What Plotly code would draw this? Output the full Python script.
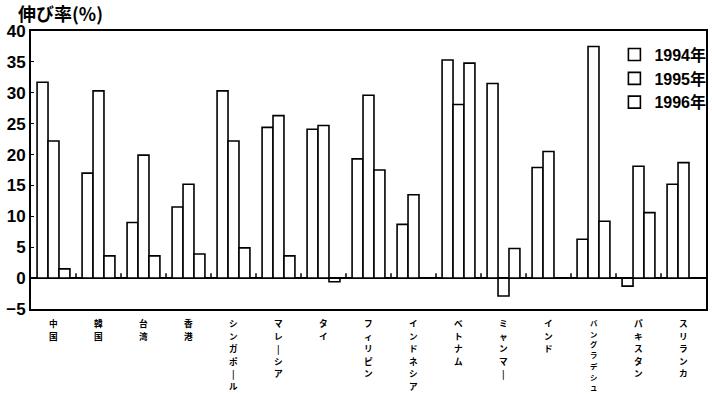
import plotly.graph_objects as go

categories = ["中国", "韓国", "台湾", "香港", "シンガポール", "マレーシア", "タイ",
              "フィリピン", "インドネシア", "ベトナム", "ミャンマー", "インド",
              "バングラデシュ", "パキスタン", "スリランカ"]
series_names = ["1994年", "1995年", "1996年"]
y1994 = [31.7, 17.0, 9.0, 11.5, 30.3, 24.4, 24.1, 19.3, 8.7, 35.3, 31.5, 17.9, 6.3, -1.3, 15.2]
y1995 = [22.2, 30.3, 19.9, 15.2, 22.2, 26.3, 24.7, 29.6, 13.5, 28.1, -2.9, 20.5, 37.5, 18.1, 18.7]
y1996 = [1.5, 3.6, 3.6, 3.9, 4.9, 3.6, -0.6, 17.5, None, 34.8, 4.8, None, 9.2, 10.6, None]
y_ticks = [-5, 0, 5, 10, 15, 20, 25, 30, 35, 40]

JP = "Noto Sans CJK JP"
NUM = "Liberation Sans, Arial, Noto Sans CJK JP"

fig = go.Figure()
for name, vals in zip(series_names, [y1994, y1995, y1996]):
    fig.add_trace(go.Bar(
        x=categories, y=vals, name=name,
        marker=dict(color="white", line=dict(color="black", width=1.6)),
    ))

# small separator ticks on the zero line between country groups
for i in range(len(categories) - 1):
    fig.add_shape(type="line", xref="x", yref="y",
                  x0=i + 0.5, x1=i + 0.5, y0=0, y1=0.8,
                  line=dict(color="black", width=1.5))

# vertical (tategaki) category labels: one character per line
for cat in categories:
    chars = ["|" if ch == "ー" else ch for ch in cat]
    pitch = min(12.6, 75.0 / len(chars))
    size = pitch / 1.45
    for k, ch in enumerate(chars):
        fig.add_annotation(
            x=cat, xref="x", y=0, yref="paper", yanchor="top", xanchor="center",
            yshift=-(6 + k * pitch), text=ch, showarrow=False,
            font=dict(family=JP, size=size, color="black", weight="bold"),
        )

fig.update_layout(
    width=712, height=394,
    margin=dict(l=31, r=1, t=31, b=85),
    paper_bgcolor="white", plot_bgcolor="white",
    barmode="group", bargap=0.27, bargroupgap=0,
    showlegend=True,
    legend=dict(x=1.008, y=0.976, xanchor="right", yanchor="top",
                font=dict(family=NUM, size=16, color="black", weight="bold"),
                bgcolor="rgba(0,0,0,0)", tracegroupgap=0, itemwidth=30),
    title=dict(text="伸び率(%)", xref="container", yref="container",
               x=18 / 712, y=1 - 15 / 394, xanchor="left", yanchor="middle",
               pad=dict(l=0, t=0, b=0, r=0),
               font=dict(family=JP, size=18, color="black", weight="bold")),
)
fig.update_xaxes(
    type="category", showticklabels=False, automargin=False,
    ticks="", showgrid=False,
    showline=True, linecolor="black", linewidth=1.6, mirror=True,
)
fig.update_yaxes(
    range=[-5, 40], tickvals=y_ticks, ticks="inside", ticklen=3,
    tickcolor="black", tickwidth=1.2, automargin=False,
    tickfont=dict(family=NUM, size=17, color="black", weight="bold"),
    showgrid=False, zeroline=True, zerolinecolor="black", zerolinewidth=1.6,
    showline=True, linecolor="black", linewidth=2, mirror=True,
)

fig.write_html("out.html", config={"displayModeBar": False},
               post_script="document.body.style.margin='0';")
